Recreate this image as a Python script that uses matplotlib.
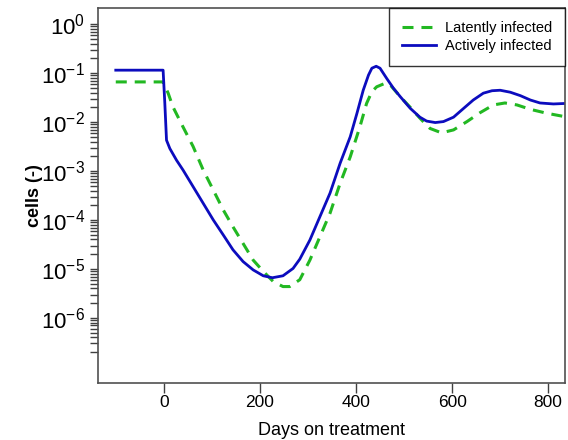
import numpy as np
import matplotlib
matplotlib.use('Agg')
from matplotlib import pyplot as plt

# days on treatment and log10(cells)
days_active = [-100, -1.5, 2, 5.6, 12.5, 26.5, 40, 61, 82, 103, 124, 144, 165, 186,
               207, 226, 248, 269, 283, 304, 325, 346, 367, 388, 402, 415, 426, 433,
               442, 450, 464, 478, 492, 513, 533, 547, 565, 582, 603, 624, 644, 665,
               683, 700, 721, 742, 763, 783, 811, 835]
log_active = [-0.94, -0.94, -1.6, -2.37, -2.54, -2.78, -2.98, -3.32, -3.66, -4.0, -4.31,
              -4.61, -4.85, -5.02, -5.14, -5.18, -5.14, -4.99, -4.8, -4.41, -3.93, -3.45,
              -2.84, -2.3, -1.82, -1.35, -1.04, -0.9, -0.86, -0.9, -1.11, -1.31, -1.48,
              -1.72, -1.9, -1.98, -2.01, -1.99, -1.9, -1.72, -1.55, -1.41, -1.36, -1.35,
              -1.39, -1.46, -1.55, -1.61, -1.63, -1.62]

days_latent = [-100, -1.5, 9, 19, 40, 61, 82, 103, 124, 144, 165, 186, 207, 228, 248,
               262, 283, 304, 325, 346, 367, 388, 408, 422, 433, 443, 460, 471, 492,
               513, 533, 554, 578, 603, 631, 658, 686, 710, 735, 763, 797, 835]
log_latent = [-1.18, -1.18, -1.41, -1.69, -2.1, -2.5, -2.98, -3.39, -3.8, -4.14, -4.48,
              -4.82, -5.05, -5.26, -5.36, -5.36, -5.22, -4.82, -4.34, -3.86, -3.25, -2.71,
              -2.1, -1.62, -1.38, -1.28, -1.21, -1.24, -1.48, -1.7, -1.92, -2.13, -2.22,
              -2.16, -1.99, -1.81, -1.65, -1.61, -1.65, -1.74, -1.82, -1.89]

xticks = [0, 200, 400, 600, 800]
ydecades = [0, -1, -2, -3, -4, -5, -6]

plt.rcParams['font.family'] = ['Liberation Sans', 'DejaVu Sans']
plt.rcParams['mathtext.fontset'] = 'custom'
plt.rcParams['mathtext.rm'] = 'Liberation Sans'
plt.rcParams['mathtext.it'] = 'Liberation Sans'

fig = plt.figure(figsize=(5.68, 4.4), dpi=100)
ax = fig.add_axes([98/568, 1-383/440, (565-98)/568, (383-8)/440])

ax.plot(days_latent, 10**np.array(log_latent), color='#22b822', lw=2.2,
        dashes=(3.6, 2.6), label='Latently infected')
ax.plot(days_active, 10**np.array(log_active), color='#0c0cbe', lw=2.0,
        label='Actively infected')

ax.set_yscale('log')
ax.set_xlim(-137, 835)
ax.set_ylim(10**-7.33, 10**0.33)

ax.set_yticks([10.0**d for d in ydecades])
ax.set_yticklabels(['$10^{%d}$' % d if d == 0 else '$10^{\u2212%d}$' % (-d) for d in ydecades])
minor = [k * 10.0**n for n in range(-7, 0) for k in range(2, 10)]
ax.set_yticks(minor, minor=True)
ax.yaxis.set_minor_formatter(plt.NullFormatter())
ax.tick_params(axis='y', which='both', direction='out', length=5.5, width=1.0,
               color='#404040', labelsize=16, pad=4)

ax.set_xticks(xticks)
ax.set_xticklabels([str(t) for t in xticks])
ax.tick_params(axis='x', which='major', direction='out', length=7, width=1.0,
               color='#404040', labelsize=12.5, pad=1.5)
ax.tick_params(axis='x', which='minor', bottom=False)

for s in ax.spines.values():
    s.set_color('#505050')
    s.set_linewidth(1.2)

ax.set_xlabel('Days on treatment', fontsize=13, labelpad=9)
ax.set_ylabel('cells (-)', fontsize=13, fontweight='bold')
ax.yaxis.set_label_coords(-0.118, 0.5)

leg = ax.legend(loc='upper right', fontsize=10.5, frameon=True, fancybox=False,
                borderaxespad=0, handlelength=2.3, labelspacing=0.25,
                borderpad=0.9, handletextpad=0.6)
leg.get_frame().set_edgecolor('black')
leg.get_frame().set_linewidth(1.0)

fig.savefig('out.png', dpi=100)
